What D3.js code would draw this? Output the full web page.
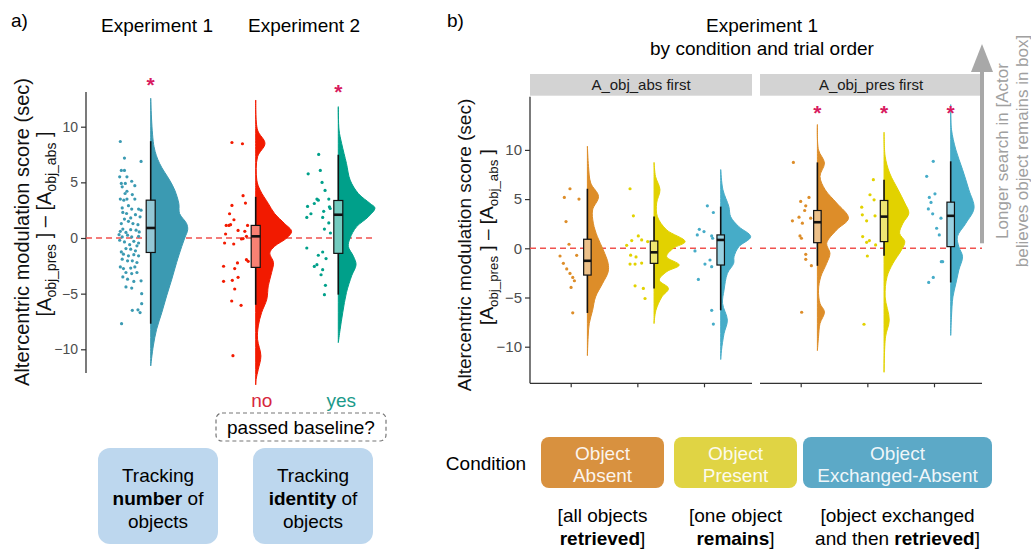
<!DOCTYPE html>
<html>
<head>
<meta charset="utf-8">
<script src="https://cdn.jsdelivr.net/npm/d3@7"></script>
<style>
  body { margin: 0; background: #fff; }
  svg { font-family: "Liberation Sans", Arial, sans-serif; }
</style>
</head>
<body>
<svg width="1031" height="550"></svg>
<script>
// ---------- data ----------
// points: [jitter (-1..1), score]; violins: [score, relative density]; box: [whiskLo, q1, median, q3, whiskHi]
const leftGroups = ["Experiment 1", "no", "yes"];
const leftColors = ["#3B9AB2", "#F21A00", "#00A08A"];
const leftStars = [14.2, null, 13.6];

const exp1Pts = [[-0.83,8.67],[-0.5,7.18],[0.83,6.88],[-0.75,6.07],[-0.5,6.07],[-0.88,5.5],[-0.3,5.5],[0.08,5.1],[-0.75,4.9],[-0.43,4.9],[-0.68,4.6],[0.33,4.7],[-0.3,4.2],[-0.45,4.0],[0.13,3.9],[-0.83,3.5],[-0.55,3.4],[-0.3,3.5],[0.33,3.5],[-0.18,2.9],[0.08,2.6],[0.63,2.6],[0.83,2.5],[-0.68,2.7],[-0.63,2.3],[-0.33,2.2],[0.38,2.1],[0.75,1.9],[0,1.8],[-0.5,1.7],[-0.18,1.5],[-0.75,1.3],[0.18,1.3],[0.58,1.2],[-0.63,0.8],[0,0.75],[-0.83,0.6],[-0.38,0.5],[0.43,0.7],[0.68,0.55],[-0.93,0.3],[-0.68,0.1],[-0.25,0.25],[0.08,0.1],[0.63,0.15],[-0.88,-0.2],[-0.5,-0.35],[0.25,-0.3],[0.63,-0.45],[-0.08,-0.6],[0.5,-0.7],[-0.38,-0.95],[0,-1.0],[-0.75,-1.25],[0.38,-1.15],[-0.58,-1.45],[-0.18,-1.6],[0.25,-1.5],[0.63,-1.6],[-0.25,-2.05],[-0.68,-1.9],[0.13,-2.05],[0.5,-2.2],[-0.83,-2.6],[-0.58,-2.75],[0,-2.7],[0.33,-2.6],[-0.38,-3.1],[0.08,-3.2],[0.5,-3.1],[-0.63,-3.5],[-0.25,-3.7],[0.25,-3.9],[0.83,-3.85],[-0.38,-4.4],[0.08,-4.5],[0.88,-5.0],[0.88,-5.9],[0.13,-6.5],[0.58,-6.45],[0.75,-6.7],[-0.73,-7.7]];
const noPts = [[-0.3,8.58],[0.54,8.47],[0.59,3.8],[-0.3,2.93],[0.78,3.14],[-0.49,2.18],[-0.14,1.64],[-0.76,1.13],[-0.54,1.13],[-0.41,1.2],[0.95,1.13],[0.19,0.68],[-0.81,0.36],[0.73,0.6],[0.86,0.15],[0.46,-0.09],[0.59,-0.05],[-0.89,-0.45],[-0.16,-0.54],[0.86,-1.95],[1.0,-2.1],[0.14,-2.24],[-0.97,-2.54],[-0.08,-2.75],[0.19,-3.53],[-0.97,-3.89],[-0.27,-3.8],[-0.08,-4.58],[-0.32,-5.66],[0.43,-6.05],[-0.22,-10.57]];
const yesPts = [[0.03,7.51],[0.16,6.07],[-0.81,5.77],[0.3,4.99],[0.54,4.27],[-0.11,3.5],[0,3.4],[0.84,3.5],[-0.86,2.84],[-0.32,3.1],[0.89,2.8],[0.95,2.65],[-0.59,2.18],[0.43,2.4],[-0.92,1.85],[0.35,1.85],[0.84,1.35],[0.49,0.8],[0.97,0.45],[-0.92,-0.9],[0.35,-1.26],[0,-1.55],[0.62,-1.85],[-0.11,-2.4],[-0.32,-2.55],[0.35,-2.85],[0.22,-3.3],[0.57,-4.25],[0.49,-5.09]];

const exp1Vio = [[12.56,0],[8.2,0.09],[6.7,0.24],[5.2,0.51],[4.3,0.65],[3.1,0.76],[2.2,0.78],[1.3,0.97],[0.75,1.0],[0,0.92],[-0.75,0.84],[-2.2,0.70],[-3.7,0.57],[-5.2,0.43],[-6.7,0.30],[-8.2,0.16],[-9.7,0.07],[-11.5,0]];
const noVio = [[12.4,0],[9.7,0.05],[8.5,0.25],[7.3,0.05],[5.2,0.03],[4.3,0.12],[3.1,0.34],[2.2,0.51],[1.3,0.78],[0.6,0.97],[0,0.84],[-0.75,0.51],[-1.35,0.38],[-2.2,0.48],[-3.1,0.43],[-4.3,0.34],[-5.5,0.30],[-6.7,0.16],[-7.9,0.07],[-9.1,0.05],[-10.6,0.14],[-11.8,0.07],[-12.7,0.01],[-13.2,0]];
const yesVio = [[11.8,0],[9.7,0.02],[8.5,0.09],[6.7,0.22],[5.2,0.32],[4.0,0.54],[3.1,0.86],[2.7,0.99],[1.9,0.81],[1.0,0.49],[0,0.32],[-0.75,0.27],[-1.65,0.41],[-2.4,0.48],[-3.4,0.36],[-4.9,0.22],[-6.7,0.12],[-8.2,0.05],[-9.4,0]];

const leftBoxes = [[-7.7,-1.3,0.9,3.4,8.7],[-6.0,-2.64,0.15,1.13,3.7],[-5.09,-1.38,2.09,3.37,7.48]];

const facets = ["A_obj_abs first", "A_obj_pres first"];
const conds = ["Object Absent", "Object Present", "Object Exchanged-Absent"];
const condColors = ["#DD8D29", "#E2D200", "#46ACC8"];
const condBoxColors = ["#D8913F", "#E0D444", "#5CA9C7"];
const rightStars = [[null, null, null], [14.3, 14.3, 14.3]];

const absOAPts = [[-0.06,6.05],[-0.53,5.17],[0.69,5.0],[-0.39,2.72],[-0.14,0.41],[-0.89,-0.78],[0.5,-0.71],[-0.61,-1.53],[-0.33,-2.1],[-0.06,-2.55],[0.17,-2.96],[0.31,-3.3],[0.03,-3.98],[0.17,-6.56]];
const absOPPts = [[-0.61,6.05],[-0.33,3.3],[0.08,1.26],[-0.47,0.78],[0.36,0.85],[0.86,0.68],[-0.89,0.3],[-0.56,-0.7],[-0.11,-0.88],[-0.61,-1.6],[-0.19,-1.6],[0.36,-1.5],[-0.19,-3.81],[0.5,-4.08],[0.64,-5.1]];
const absOEPts = [[0.28,4.32],[0.78,3.64],[-0.39,1.93],[0,1.7],[-0.56,1.36],[0.64,1.26],[0.72,1.02],[-0.75,-0.27],[0.5,-1.19],[0.08,-1.6],[0.64,-1.87],[-0.47,-3.16],[0.64,-6.3],[0.78,-7.7]];
const presOAPts = [[-0.61,8.73],[0.69,5.17],[0,4.76],[0.42,4.32],[0.33,3.84],[-0.69,2.79],[-0.14,3.16],[0.83,3.06],[0.14,2.55],[-0.06,1.26],[0.06,1.02],[0.42,-0.61],[0.42,-1.12],[0.89,-1.77],[0.08,-6.5]];
const presOPPts = [[0.5,6.97],[0.22,5.44],[0.56,4.93],[-0.47,4.18],[-0.42,3.4],[0.64,3.3],[-0.06,2.79],[-0.39,1.19],[0.17,0.78],[-0.06,0.61],[0.69,0.34],[0,-0.78],[-0.28,-7.72]];
const presOEPts = [[-0.06,8.84],[-0.61,7.31],[0.08,5.54],[-0.39,5.17],[-0.25,4.66],[-0.47,4.0],[-0.11,3.5],[0.58,3.06],[0.22,2.04],[0.44,1.36],[0.72,-1.36],[0.61,-1.36],[-0.06,-2.96],[-0.44,-3.47]];

const absOAVio = [[10.37,0],[8.33,0.03],[6.63,0.09],[5.27,0.3],[3.9,0.14],[2.55,0.16],[1.18,0.27],[-0.17,0.43],[-1.53,0.56],[-2.4,0.56],[-3.57,0.41],[-4.94,0.22],[-6.3,0.14],[-7.65,0.05],[-9.0,0.02],[-10.9,0]];
const absOPVio = [[8.73,0],[7.3,0.04],[5.95,0.16],[4.6,0.07],[3.22,0.09],[1.87,0.34],[0.68,0.84],[0,0.52],[-0.85,0.34],[-1.7,0.68],[-2.38,0.34],[-3.23,0.14],[-4.08,0.39],[-4.94,0.21],[-6.3,0.05],[-7.65,0]];
const absOEVio = [[8.0,0],[5.95,0.06],[4.24,0.22],[3.2,0.27],[2.2,0.49],[1.18,0.81],[0.16,0.49],[-0.85,0.36],[-1.53,0.35],[-2.55,0.18],[-4.25,0.09],[-5.6,0.05],[-7.3,0.18],[-8.67,0.09],[-10.4,0.02],[-11.3,0]];
const presOAVio = [[12.58,0],[10.0,0.03],[8.67,0.19],[7.3,0.07],[5.95,0.21],[4.6,0.52],[3.06,0.84],[1.87,0.52],[0.51,0.25],[-0.51,0.34],[-1.53,0.25],[-2.9,0.09],[-4.25,0.03],[-5.6,0.07],[-6.47,0.19],[-7.65,0.07],[-9.0,0.03],[-10.4,0]];
const presOPVio = [[11.8,0],[9.35,0.03],[7.65,0.15],[5.95,0.38],[4.6,0.56],[3.57,0.67],[2.55,0.51],[1.53,0.42],[0.68,0.56],[-0.17,0.47],[-1.53,0.24],[-2.9,0.08],[-4.94,0.03],[-7.3,0.14],[-9.0,0.04],[-12.6,0]];
const presOEVio = [[14.6,0],[12.1,0.02],[10.0,0.14],[8.0,0.32],[5.95,0.49],[4.08,0.63],[2.55,0.41],[1.18,0.18],[0.16,0.22],[-0.85,0.32],[-2.2,0.22],[-3.57,0.14],[-4.94,0.06],[-7.0,0.02],[-8.85,0]];

const absBoxes = [[-6.57,-2.72,-1.27,0.92,6.05],[-4.08,-1.53,-0.41,0.74,3.22],[-6.3,-1.7,0.85,1.36,4.24]];
const presBoxes = [[-1.78,0.57,2.65,3.84,8.73],[-0.76,0.68,3.22,4.86,6.97],[-3.47,0.17,3.30,4.69,8.84]];

const yTicks = [-10, -5, 0, 5, 10];

// ---------- setup ----------
const svg = d3.select("svg");
const wScale = d3.scaleLinear().domain([0, 1]).range([0, 37]);
const jitL = d3.scaleLinear().domain([-1, 1]).range([-12.5, 12.5]);
const jitR = d3.scaleLinear().domain([-1, 1]).range([-12, 12]);

function raincloud(g, y, cx, base, color, pts, vio, box, boxW, jit) {
  const area = d3.area()
    .curve(d3.curveCatmullRom)
    .y((d) => y(d[0]))
    .x0(base)
    .x1((d) => base + wScale(d[1]));
  g.append("path").datum(vio).attr("d", area)
    .attr("fill", color).attr("stroke", color).attr("stroke-width", 1);
  g.append("g").selectAll("circle").data(pts).join("circle")
    .attr("cx", (d) => cx + jit(d[0]))
    .attr("cy", (d) => y(d[1]))
    .attr("r", 1.6)
    .attr("fill", color);
  const [lo, q1, md, q3, hi] = box;
  g.append("line").attr("x1", base).attr("x2", base).attr("y1", y(lo)).attr("y2", y(hi))
    .attr("stroke", "#111").attr("stroke-width", 1.6);
  g.append("rect").attr("x", base - boxW / 2).attr("width", boxW)
    .attr("y", y(q3)).attr("height", y(q1) - y(q3))
    .attr("fill", d3.interpolateRgb(color, "#fff")(0.45))
    .attr("stroke", "#111").attr("stroke-width", 1.2);
  g.append("line").attr("x1", base - boxW / 2).attr("x2", base + boxW / 2)
    .attr("y1", y(md)).attr("y2", y(md))
    .attr("stroke", "#111").attr("stroke-width", 2.6);
}

function star(g, x, y) {
  g.append("text").attr("x", x).attr("y", y + 12)
    .attr("text-anchor", "middle").attr("font-size", 21).attr("font-weight", "bold")
    .attr("fill", "#D81B60").text("*");
}

function yTitle(g, x1, x2, c1, c2, size) {
  g.append("text")
    .attr("transform", `translate(${x1},${c1}) rotate(-90)`)
    .attr("text-anchor", "middle").attr("dy", "0.35em")
    .attr("font-size", size).attr("fill", "#111")
    .text("Altercentric modulation score (sec)");
  const t = g.append("text")
    .attr("transform", `translate(${x2},${c2}) rotate(-90)`)
    .attr("text-anchor", "middle").attr("dy", "0.35em")
    .attr("font-size", size).attr("fill", "#111");
  t.append("tspan").text("[A");
  t.append("tspan").attr("font-size", size * 0.7).attr("dy", 5).text("obj_pres");
  t.append("tspan").attr("dy", -5).text(" ] \u2013 [A");
  t.append("tspan").attr("font-size", size * 0.7).attr("dy", 5).text("obj_abs");
  t.append("tspan").attr("dy", -5).text(" ]");
}

// ---------- panel a ----------
const yL = d3.scaleLinear().domain([-10, 10]).range([349.3, 126.7]);
const xExp1 = d3.scalePoint().domain([leftGroups[0]]).range([150.7, 150.7]);
const xExp2 = d3.scalePoint().domain(leftGroups.slice(1)).range([255.7, 338.3]);
const leftX = (g) => (g === leftGroups[0] ? xExp1(g) : xExp2(g));

const a = svg.append("g");
a.append("text").attr("x", 11).attr("y", 27).attr("font-size", 19).text("a)");
a.append("text").attr("x", 157).attr("y", 32).attr("text-anchor", "middle").attr("font-size", 19).text("Experiment 1");
a.append("text").attr("x", 304).attr("y", 32).attr("text-anchor", "middle").attr("font-size", 19).text("Experiment 2");

const axL = a.append("g").attr("transform", "translate(86,0)")
  .call(d3.axisLeft(yL).tickValues(yTicks).tickSize(5).tickPadding(3));
axL.select(".domain").remove();
axL.selectAll("line").attr("stroke", "#333").attr("stroke-width", 1.2);
axL.selectAll("text").attr("font-size", 14).attr("fill", "#4D4D4D").attr("font-family", null);
a.append("line").attr("x1", 86).attr("x2", 86).attr("y1", 92).attr("y2", 373)
  .attr("stroke", "#333").attr("stroke-width", 1.3);

yTitle(a, 22, 44, 232, 224, 20);

a.append("line").attr("x1", 86).attr("x2", 375).attr("y1", yL(0)).attr("y2", yL(0))
  .attr("stroke", "#F0524F").attr("stroke-width", 1.5).attr("stroke-dasharray", "6,4");

const leftPts = [exp1Pts, noPts, yesPts];
const leftVio = [exp1Vio, noVio, yesVio];
leftGroups.forEach((grp, i) => {
  const base = leftX(grp);
  raincloud(a, yL, base - 20, base, leftColors[i], leftPts[i], leftVio[i], leftBoxes[i], 9, jitL);
  if (leftStars[i] !== null) star(a, base, yL(leftStars[i]));
});

a.append("text").attr("x", xExp2("no") + 6).attr("y", 407).attr("text-anchor", "middle")
  .attr("font-size", 19).attr("fill", "#D7263D").text("no");
a.append("text").attr("x", xExp2("yes") + 3).attr("y", 407).attr("text-anchor", "middle")
  .attr("font-size", 19).attr("fill", "#1A9A8A").text("yes");
a.append("rect").attr("x", 216).attr("y", 413).attr("width", 170).attr("height", 28).attr("rx", 6)
  .attr("fill", "none").attr("stroke", "#777").attr("stroke-width", 1.2).attr("stroke-dasharray", "4,3");
a.append("text").attr("x", 301).attr("y", 427).attr("dy", "0.35em").attr("text-anchor", "middle")
  .attr("font-size", 19).text("passed baseline?");

const trackBoxes = [[98, "number"], [253, "identity"]];
trackBoxes.forEach(([bx, word]) => {
  a.append("rect").attr("x", bx).attr("y", 448).attr("width", 120).attr("height", 96).attr("rx", 12)
    .attr("fill", "#BDD7EE");
  const cx = bx + 60;
  a.append("text").attr("x", cx).attr("y", 475).attr("dy", "0.35em").attr("text-anchor", "middle")
    .attr("font-size", 19).text("Tracking");
  const t = a.append("text").attr("x", cx).attr("y", 498).attr("dy", "0.35em").attr("text-anchor", "middle")
    .attr("font-size", 19);
  t.append("tspan").attr("font-weight", "bold").text(word);
  t.append("tspan").text(" of");
  a.append("text").attr("x", cx).attr("y", 521).attr("dy", "0.35em").attr("text-anchor", "middle")
    .attr("font-size", 19).text("objects");
});

// ---------- panel b ----------
const yR = d3.scaleLinear().domain([-10, 10]).range([346.7, 149.9]);
const panelX = [530, 760];
const panelW = 222;
const xR = d3.scalePoint().domain(conds).range([40.7, 174]);

const b = svg.append("g");
b.append("text").attr("x", 447).attr("y", 27).attr("font-size", 19).text("b)");
b.append("text").attr("x", 762).attr("y", 32).attr("text-anchor", "middle").attr("font-size", 19).text("Experiment 1");
b.append("text").attr("x", 762).attr("y", 55).attr("text-anchor", "middle").attr("font-size", 19).text("by condition and trial order");

const axR = b.append("g").attr("transform", "translate(530,0)")
  .call(d3.axisLeft(yR).tickValues(yTicks).tickSize(5).tickPadding(3));
axR.select(".domain").remove();
axR.selectAll("line").attr("stroke", "#333").attr("stroke-width", 1.2);
axR.selectAll("text").attr("font-size", 15).attr("fill", "#4D4D4D").attr("font-family", null);
b.append("line").attr("x1", 530).attr("x2", 530).attr("y1", 96.7).attr("y2", 383.3)
  .attr("stroke", "#333").attr("stroke-width", 1.3);

yTitle(b, 464, 486, 245, 237, 19);

const rightPts = [[absOAPts, absOPPts, absOEPts], [presOAPts, presOPPts, presOEPts]];
const rightVio = [[absOAVio, absOPVio, absOEVio], [presOAVio, presOPVio, presOEVio]];
const rightBoxes = [absBoxes, presBoxes];

facets.forEach((f, fi) => {
  const p = b.append("g").attr("transform", `translate(${panelX[fi]},0)`);
  p.append("rect").attr("x", 0).attr("y", 74).attr("width", panelW).attr("height", 21.7).attr("fill", "#D3D3D3");
  p.append("text").attr("x", panelW / 2).attr("y", 85).attr("dy", "0.35em").attr("text-anchor", "middle")
    .attr("font-size", 15).attr("fill", "#1A1A1A").text(f);
  const ax = p.append("g").attr("transform", "translate(0,383.3)")
    .call(d3.axisBottom(xR).tickSize(4).tickFormat(""));
  ax.select(".domain").remove();
  ax.selectAll("line").attr("stroke", "#333").attr("stroke-width", 1.2);
  p.append("line").attr("x1", 0).attr("x2", panelW).attr("y1", 383.3).attr("y2", 383.3)
    .attr("stroke", "#333").attr("stroke-width", 1.3);
  p.append("line").attr("x1", 0).attr("x2", panelW).attr("y1", yR(0)).attr("y2", yR(0))
    .attr("stroke", "#F0524F").attr("stroke-width", 1.5).attr("stroke-dasharray", "6,4");
  conds.forEach((c, ci) => {
    const tick = xR(c);
    const base = tick + 16.7;
    raincloud(p, yR, tick, base, condColors[ci], rightPts[fi][ci], rightVio[fi][ci], rightBoxes[fi][ci], 7.5, jitR);
    if (rightStars[fi][ci] !== null) star(p, base, yR(rightStars[fi][ci]));
  });
});

// arrow + note
b.append("line").attr("x1", 982).attr("x2", 982).attr("y1", yR(0) - 5).attr("y2", 70)
  .attr("stroke", "#A8A8A8").attr("stroke-width", 4);
b.append("path").attr("d", "M982,44 L971,72 L993,72 Z").attr("fill", "#A8A8A8");
b.append("text").attr("transform", "translate(1002,151) rotate(-90)").attr("dy", "0.35em")
  .attr("text-anchor", "middle").attr("font-size", 17).attr("fill", "#A0A0A0").text("Longer search in [Actor");
b.append("text").attr("transform", "translate(1022,151) rotate(-90)").attr("dy", "0.35em")
  .attr("text-anchor", "middle").attr("font-size", 17).attr("fill", "#A0A0A0").text("believes object remains in box]");

// condition legend
const legX = [541, 674, 803];
const legW = [123, 123, 189];
const legLines = [["Object", "Absent"], ["Object", "Present"], ["Object", "Exchanged-Absent"]];
const legNotes = [
  [["[all objects", ""], ["", "retrieved", "]"]],
  [["[one object", ""], ["", "remains", "]"]],
  [["[object exchanged", ""], ["and then ", "retrieved", "]"]]
];
b.append("text").attr("x", 486).attr("y", 463).attr("dy", "0.35em").attr("text-anchor", "middle")
  .attr("font-size", 19).text("Condition");
conds.forEach((c, i) => {
  const cx = legX[i] + legW[i] / 2;
  b.append("rect").attr("x", legX[i]).attr("y", 437).attr("width", legW[i]).attr("height", 51).attr("rx", 8)
    .attr("fill", condBoxColors[i]);
  b.append("text").attr("x", cx).attr("y", 453).attr("dy", "0.35em").attr("text-anchor", "middle")
    .attr("font-size", 19).attr("fill", "#fff").attr("fill-opacity", 0.92).text(legLines[i][0]);
  b.append("text").attr("x", cx).attr("y", 475).attr("dy", "0.35em").attr("text-anchor", "middle")
    .attr("font-size", 19).attr("fill", "#fff").attr("fill-opacity", 0.92).text(legLines[i][1]);
  b.append("text").attr("x", cx).attr("y", 515).attr("dy", "0.35em").attr("text-anchor", "middle")
    .attr("font-size", 19).text(legNotes[i][0][0]);
  const t = b.append("text").attr("x", cx).attr("y", 538).attr("dy", "0.35em").attr("text-anchor", "middle")
    .attr("font-size", 19);
  t.append("tspan").text(legNotes[i][1][0]);
  t.append("tspan").attr("font-weight", "bold").text(legNotes[i][1][1]);
  t.append("tspan").text(legNotes[i][1][2]);
});
</script>
</body>
</html>
